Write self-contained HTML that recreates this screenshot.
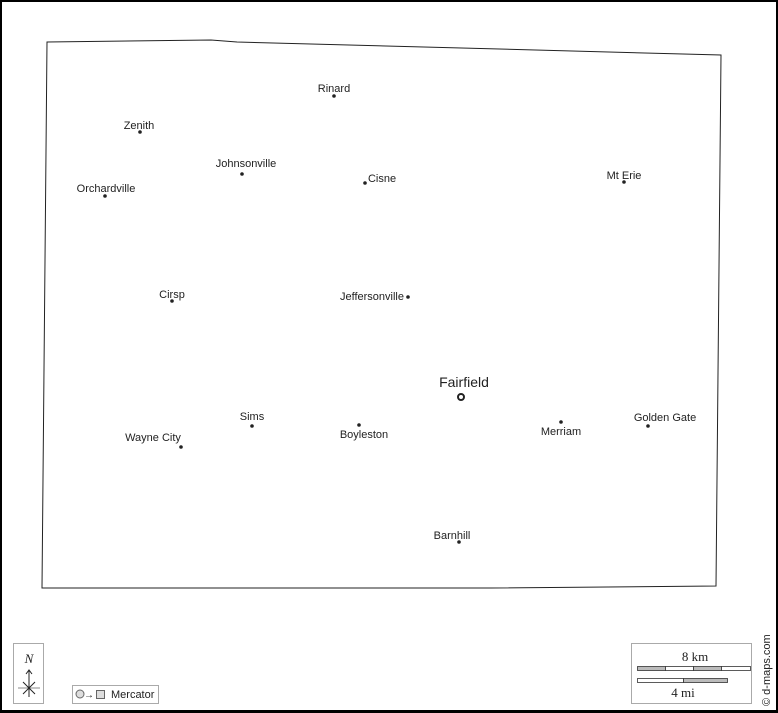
<!DOCTYPE html>
<html><head><meta charset="utf-8"><style>
html,body{margin:0;padding:0;background:#fff}
svg{display:block}
text{font-family:"Liberation Sans",sans-serif;font-size:11px;fill:#222}
</style></head><body>
<svg width="778" height="713" viewBox="0 0 778 713" xmlns="http://www.w3.org/2000/svg">
<rect x="1" y="1" width="776" height="710" fill="#fff" stroke="#000" stroke-width="2"/>
<line x1="0" y1="711.5" x2="778" y2="711.5" stroke="#000" stroke-width="3"/>
<polygon points="47,42 211,40 237,42 721,55 716,586 490,588 42,588" fill="none" stroke="#222" stroke-width="1"/>
<g fill="#222">
<circle cx="334" cy="96" r="1.8"/><circle cx="140" cy="132" r="1.8"/><circle cx="242" cy="174" r="1.8"/>
<circle cx="365" cy="183" r="1.8"/><circle cx="624" cy="182" r="1.8"/><circle cx="105" cy="196" r="1.8"/>
<circle cx="172" cy="301" r="1.8"/><circle cx="408" cy="297" r="1.8"/><circle cx="252" cy="426" r="1.8"/>
<circle cx="359" cy="425" r="1.8"/><circle cx="561" cy="422" r="1.8"/><circle cx="648" cy="426" r="1.8"/>
<circle cx="181" cy="447" r="1.8"/><circle cx="459" cy="542" r="1.8"/>
</g>
<circle cx="461" cy="397" r="3" fill="none" stroke="#222" stroke-width="2"/>
<text x="334" y="92" text-anchor="middle">Rinard</text>
<text x="139" y="129" text-anchor="middle">Zenith</text>
<text x="246" y="167" text-anchor="middle">Johnsonville</text>
<text x="382" y="182" text-anchor="middle">Cisne</text>
<text x="624" y="179" text-anchor="middle">Mt Erie</text>
<text x="106" y="192" text-anchor="middle">Orchardville</text>
<text x="172" y="298" text-anchor="middle">Cirsp</text>
<text x="372" y="300" text-anchor="middle">Jeffersonville</text>
<text x="464" y="387" text-anchor="middle" style="font-size:14px">Fairfield</text>
<text x="252" y="420" text-anchor="middle">Sims</text>
<text x="364" y="438" text-anchor="middle">Boyleston</text>
<text x="561" y="435" text-anchor="middle">Merriam</text>
<text x="665" y="421" text-anchor="middle">Golden Gate</text>
<text x="153" y="441" text-anchor="middle">Wayne City</text>
<text x="452" y="539" text-anchor="middle">Barnhill</text>
<!-- compass -->
<rect x="13.5" y="643.5" width="30" height="60" fill="#fff" stroke="#aaa"/>
<text x="29" y="663" text-anchor="middle" style="font-family:'Liberation Serif',serif;font-style:italic;font-size:13px">N</text>
<line x1="29" y1="670" x2="29" y2="697" stroke="#222"/>
<polyline points="26,674 29,670 32,674" fill="none" stroke="#222"/>
<line x1="18" y1="688" x2="40" y2="688" stroke="#888"/>
<line x1="23" y1="682" x2="35" y2="694" stroke="#222"/>
<line x1="35" y1="682" x2="23" y2="694" stroke="#222"/>
<!-- mercator -->
<rect x="72.5" y="685.5" width="86" height="18" fill="#fff" stroke="#aaa"/>
<circle cx="80" cy="694" r="4" fill="#ddd" stroke="#666"/>
<text x="84" y="698" style="font-size:10px">→</text>
<rect x="96.5" y="690.5" width="8" height="8" fill="#ddd" stroke="#666"/>
<text x="111" y="698" style="font-size:11px">Mercator</text>
<!-- scale -->
<rect x="631.5" y="643.5" width="120" height="60" fill="#fff" stroke="#aaa"/>
<text x="695" y="661" text-anchor="middle" style="font-family:'Liberation Serif',serif;font-size:13px">8 km</text>
<rect x="637.5" y="666.5" width="28" height="4" fill="#bbb" stroke="#333" stroke-width="0.8"/>
<rect x="665.5" y="666.5" width="28" height="4" fill="#fff" stroke="#333" stroke-width="0.8"/>
<rect x="693.5" y="666.5" width="28" height="4" fill="#bbb" stroke="#333" stroke-width="0.8"/>
<rect x="721.5" y="666.5" width="29" height="4" fill="#fff" stroke="#333" stroke-width="0.8"/>
<rect x="637.5" y="678.5" width="46" height="4" fill="#fff" stroke="#333" stroke-width="0.8"/>
<rect x="683.5" y="678.5" width="44" height="4" fill="#bbb" stroke="#333" stroke-width="0.8"/>
<text x="683" y="697" text-anchor="middle" style="font-family:'Liberation Serif',serif;font-size:13px">4 mi</text>
<text transform="translate(770,706) rotate(-90)" style="font-size:11px">© d-maps.com</text>
</svg>
</body></html>
